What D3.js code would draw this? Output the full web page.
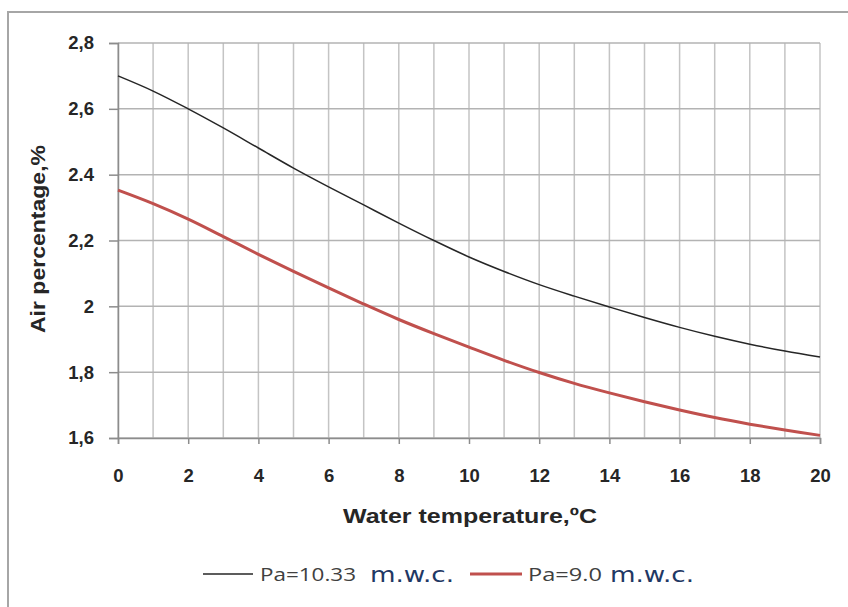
<!DOCTYPE html>
<html>
<head>
<meta charset="utf-8">
<script src="https://cdn.jsdelivr.net/npm/d3@7"></script>
<style>
  body { margin: 0; background: #fff; }
  svg { display: block; }
</style>
</head>
<body>
<svg width="848" height="607"></svg>
<script>
// water temperature, degrees C
var temps = [0, 1, 2, 3, 4, 5, 6, 7, 8, 9, 10, 11, 12, 13, 14, 15, 16, 17, 18, 19, 20];
// air percentage at Pa=10.33 m.w.c.
var airHigh = [2.70, 2.654, 2.60, 2.542, 2.481, 2.42, 2.363, 2.308, 2.253, 2.20, 2.150, 2.106, 2.066, 2.031, 1.998, 1.966, 1.936, 1.909, 1.885, 1.864, 1.846];
// air percentage at Pa=9.0 m.w.c.
var airLow = [2.353, 2.312, 2.265, 2.212, 2.158, 2.106, 2.056, 2.007, 1.960, 1.917, 1.876, 1.836, 1.799, 1.766, 1.737, 1.710, 1.685, 1.662, 1.642, 1.624, 1.608];
var yTicks = [1.6, 1.8, 2.0, 2.2, 2.4, 2.6, 2.8];
var yLabels = ['1,6', '1,8', '2', '2,2', '2.4', '2,6', '2,8'];
var xTicks = [0, 2, 4, 6, 8, 10, 12, 14, 16, 18, 20];
var seriesNames = ['Pa=10.33', 'Pa=9.0'];

var svg = d3.select('svg');
var boldFont = '"Liberation Sans", Arial, sans-serif';

// outer frame
svg.append('path')
  .attr('d', 'M8,620 L8,12 L860,12')
  .attr('fill', 'none').attr('stroke', '#a6a6a6').attr('stroke-width', 2);

var x = d3.scaleLinear().domain([0, 20]).range([118, 820]);
var y = d3.scaleLinear().domain([1.6, 2.8]).range([438, 43]);

// grid
svg.append('g').selectAll('line').data(temps).enter().append('line')
  .attr('x1', d => x(d)).attr('x2', d => x(d))
  .attr('y1', y(2.8)).attr('y2', y(1.6))
  .attr('stroke', '#c4c4c4').attr('stroke-width', 1.5);
svg.append('g').selectAll('line').data(yTicks).enter().append('line')
  .attr('x1', x(0)).attr('x2', x(20))
  .attr('y1', d => y(d)).attr('y2', d => y(d))
  .attr('stroke', '#b3b3b3').attr('stroke-width', 1.5);

// axes
var yAxis = d3.axisLeft(y).tickValues(yTicks).tickSize(9).tickPadding(15)
  .tickFormat((d, i) => yLabels[i]);
var gy = svg.append('g').attr('transform', 'translate(' + x(0) + ',0)').call(yAxis);
var xAxis = d3.axisBottom(x).tickValues(xTicks).tickSize(6).tickPadding(25);
var gx = svg.append('g').attr('transform', 'translate(0,' + y(1.6) + ')').call(xAxis);
[gx, gy].forEach(function (g) {
  g.select('.domain').attr('stroke', '#8c8c8c').attr('stroke-width', 1.5);
  g.selectAll('.tick line').attr('stroke', '#8c8c8c').attr('stroke-width', 1.5);
  g.selectAll('text')
    .attr('font-family', boldFont)
    .attr('font-weight', 'bold').attr('font-size', 18.5).attr('fill', '#262626');
});

// lines
var line = d3.line().x((d, i) => x(temps[i])).y(d => y(d)).curve(d3.curveCatmullRom.alpha(0.5));
svg.append('path').datum(airHigh).attr('d', line)
  .attr('fill', 'none').attr('stroke', '#262626').attr('stroke-width', 1.5);
svg.append('path').datum(airLow).attr('d', line)
  .attr('fill', 'none').attr('stroke', '#c0504d').attr('stroke-width', 3);

// axis titles
svg.append('text').attr('x', 343).attr('y', 523)
  .attr('font-family', boldFont)
  .attr('font-weight', 'bold').attr('font-size', 21).attr('fill', '#262626')
  .attr('textLength', 254).attr('lengthAdjust', 'spacingAndGlyphs')
  .text('Water temperature,ºC');
svg.append('text').attr('transform', 'translate(45,333) rotate(-90)')
  .attr('font-family', boldFont)
  .attr('font-weight', 'bold').attr('font-size', 20).attr('fill', '#262626')
  .attr('textLength', 188).attr('lengthAdjust', 'spacingAndGlyphs')
  .text('Air percentage,%');

// legend
var legend = [
  { name: seriesNames[0], color: '#262626', w: 1.5, x0: 203, x1: 253, tx: 260, tw: 96, ux: 370 },
  { name: seriesNames[1], color: '#c0504d', w: 3, x0: 470, x1: 522, tx: 528, tw: 74, ux: 610 }
];
var lg = svg.append('g').selectAll('g').data(legend).enter().append('g');
lg.append('line').attr('x1', d => d.x0).attr('x2', d => d.x1).attr('y1', 574).attr('y2', 574)
  .attr('stroke', d => d.color).attr('stroke-width', d => d.w);
lg.append('text').attr('x', d => d.tx).attr('y', 581)
  .attr('font-family', '"Open Sans", "Noto Sans", sans-serif').attr('font-size', 19).attr('fill', '#404040')
  .attr('textLength', d => d.tw).attr('lengthAdjust', 'spacingAndGlyphs')
  .text(d => d.name);
lg.append('text').attr('x', d => d.ux).attr('y', 582)
  .attr('font-family', '"DejaVu Sans", Verdana, sans-serif').attr('font-size', 22).attr('fill', '#1f3864')
  .attr('textLength', 84).attr('lengthAdjust', 'spacingAndGlyphs').text('m.w.c.');
</script>
</body>
</html>
